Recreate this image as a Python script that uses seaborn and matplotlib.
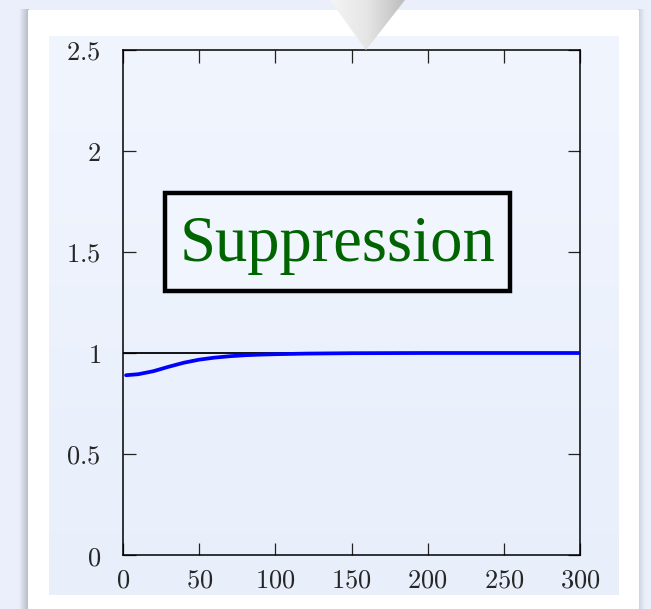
import numpy as np
import pandas as pd
import seaborn as sns
import matplotlib
matplotlib.use("Agg")
import matplotlib.pyplot as plt
from matplotlib.patches import Rectangle, Polygon
from matplotlib.ticker import FixedLocator, FuncFormatter

# Suppression factor versus time
time_steps = [2, 10, 20, 30, 40, 50, 60, 70, 80, 90, 100, 120, 150, 200, 250, 300]
suppression = [0.890, 0.895, 0.910, 0.932, 0.952, 0.967, 0.977, 0.984, 0.989,
               0.992, 0.994, 0.997, 0.999, 1.000, 1.000, 1.000]
unity_x = [0, 300]
unity_y = [1.0, 1.0]
x_ticks = [0, 50, 100, 150, 200, 250, 300]
y_ticks = [0, 0.5, 1, 1.5, 2, 2.5]
title_text = "Suppression"

sns.set_style("ticks")
plt.rcParams.update({
    "mathtext.fontset": "cm",
    "axes.linewidth": 1.1,
})

W, H = 651, 609
fig = plt.figure(figsize=(W / 100, H / 100), dpi=100)
outer = (0.918, 0.937, 0.984)
fig.patch.set_facecolor(outer)

# page background, card and shadow (pixel coordinates)
bg = fig.add_axes([0, 0, 1, 1], zorder=0)
bg.set_xlim(0, W)
bg.set_ylim(H, 0)
bg.axis("off")

shadow = np.linspace(0, 1, 64)[None, :]
cmap_sh = matplotlib.colors.LinearSegmentedColormap.from_list(
    "sh", [outer, (0.70, 0.72, 0.77)])
bg.imshow(shadow, extent=(19, 29, H, 9), cmap=cmap_sh, aspect="auto", zorder=1)
bg.imshow(shadow[:, ::-1], extent=(638, 645, H, 9), cmap=cmap_sh, aspect="auto",
          zorder=1, alpha=0.6)
bg.add_patch(Rectangle((28, 10), 611, H, facecolor="white", edgecolor="none", zorder=2))

grad = np.linspace(0, 1, 128)[:, None]
cmap_in = matplotlib.colors.LinearSegmentedColormap.from_list(
    "inner", [(0.945, 0.961, 0.996), (0.910, 0.937, 0.984)])
bg.imshow(grad, extent=(49, 619, 595, 36), cmap=cmap_in, aspect="auto", zorder=3)

# main plot
ax = fig.add_axes([123 / W, 54 / H, 457 / W, 505 / H], zorder=2)
ax.set_facecolor("none")

df = pd.DataFrame({"t": time_steps, "s": suppression})
ax.plot(unity_x, unity_y, color="black", lw=1.3, zorder=2)
sns.lineplot(data=df, x="t", y="s", ax=ax, color="#0000ff", lw=2.7, zorder=3)

ax.set_xlim(0, 300)
ax.set_ylim(0, 2.5)
ax.xaxis.set_major_locator(FixedLocator(x_ticks))
ax.yaxis.set_major_locator(FixedLocator(y_ticks))
fmt = FuncFormatter(lambda v, p: f"${v:g}$")
ax.xaxis.set_major_formatter(fmt)
ax.yaxis.set_major_formatter(fmt)
ax.tick_params(direction="in", length=9, width=0.9, labelsize=19,
               top=True, right=True, color="#222222")
ax.tick_params(axis="x", pad=9)
ax.tick_params(axis="y", pad=16)
ax.set_xlabel("")
ax.set_ylabel("")
for s in ax.spines.values():
    s.set_visible(True)
    s.set_color("black")

# labelled box
ax.add_patch(Rectangle((27.6, 1.307), 226.4, 0.485, facecolor=(0.945, 0.961, 0.996),
                       edgecolor="black", lw=3.2, zorder=4))
ax.text(140.9, 1.532, title_text, color="#006400", fontsize=46.5,
        family="Liberation Serif", ha="center", va="center", zorder=5)

# pointer triangle
ov = fig.add_axes([0, 0, 1, 1], zorder=5)
ov.set_xlim(0, W)
ov.set_ylim(H, 0)
ov.axis("off")
tri = Polygon([(330, 0), (405, 0), (366, 50)], closed=True, facecolor="none",
              edgecolor="none")
ov.add_patch(tri)
hg = np.linspace(0, 1, 128)[None, :]
cmap_tri = matplotlib.colors.LinearSegmentedColormap.from_list(
    "tri", [(0.96, 0.96, 0.96), (0.90, 0.90, 0.90), (0.74, 0.74, 0.74)])
im = ov.imshow(hg, extent=(330, 405, 50, 0), cmap=cmap_tri, aspect="auto")
im.set_clip_path(tri)

fig.savefig("out.png", dpi=100, facecolor=fig.get_facecolor())
